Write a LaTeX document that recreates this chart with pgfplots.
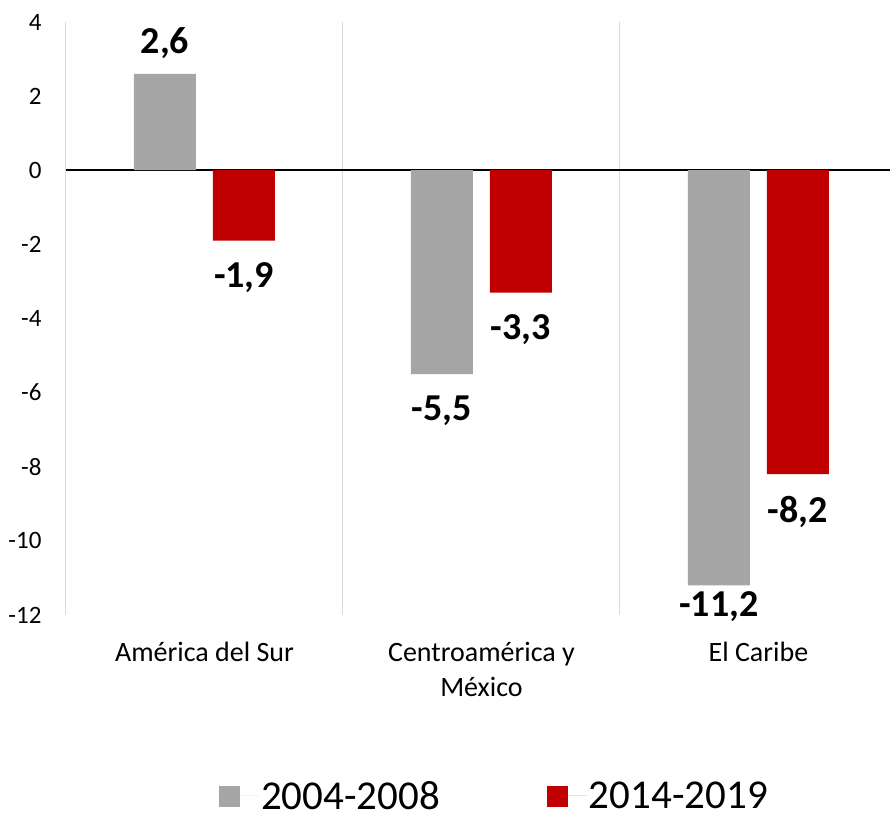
\documentclass[border=0pt]{standalone}
\usepackage{pgfplots}
\pgfplotsset{compat=1.18}
\usepackage{fontspec}
\setmainfont{Carlito}
\definecolor{cgray}{HTML}{A6A6A6}
\definecolor{cred}{HTML}{C00000}
\definecolor{cgrid}{HTML}{D9D9D9}
\begin{document}
\begin{tikzpicture}
\useasboundingbox (-66pt,-203pt) rectangle (824pt,615pt);
\begin{axis}[
  scale only axis,
  width=824pt, height=593pt,
  xmin=-0.5, xmax=2.475,
  ymin=-12, ymax=4,
  ytick={-12,-10,...,4},
  xtick={0,1,2},
  xticklabels={Am\'erica del Sur, Centroam\'erica y\\M\'exico, El Caribe},
  /pgf/number format/assume math mode=true,
  axis line style={draw=none},
  tick style={draw=none},
  yticklabel style={font=\fontsize{25}{30}\selectfont, xshift=-21pt},
  xticklabel style={font=\fontsize{28}{35}\selectfont, align=center, yshift=-24pt},
  extra x ticks={-0.5,0.5,1.5},
  extra x tick labels={},
  extra x tick style={grid=major, major grid style={draw=cgrid, line width=1pt}},
  extra y ticks={0},
  extra y tick labels={},
  extra y tick style={grid=major, major grid style={draw=black, line width=1.8pt}},
  visualization depends on={rawy \as \rawy},
  nodes near coords={\pgfmathprintnumber[use comma, fixed, fixed zerofill, precision=1]{\pgfplotspointmeta}},
  nodes near coords align={vertical},
  every node near coord/.append style={font=\bfseries\fontsize{38}{44}\selectfont, text=black, inner sep=17pt,
    yshift={ifthenelse(\rawy<-10,11,ifthenelse(\rawy<0,-5,-2))}},
  legend columns=2,
  legend style={draw=none, fill=none, at={(0.52,-0.305)}, anchor=center,
    font=\fontsize{41}{48}\selectfont,
    /tikz/every even column/.append style={column sep=105pt}},
  legend image code/.code={\fill[#1] (0pt,-11pt) rectangle (21pt,10pt); \path (0pt,0pt) -- (40pt,0pt);},
]
\addplot[ybar, bar width=62pt, bar shift=-39.5pt, fill=cgray, draw=none,
  every node near coord/.append style={xshift=-39.5pt}]
  coordinates {(0,2.6) (1,-5.5) (2,-11.2)};
\addlegendentry{2004-2008}
\addplot[ybar, bar width=62pt, bar shift=39.5pt, fill=cred, draw=none,
  every node near coord/.append style={xshift=39.5pt}]
  coordinates {(0,-1.9) (1,-3.3) (2,-8.2)};
\addlegendentry{2014-2019}
\end{axis}
\end{tikzpicture}
\end{document}
